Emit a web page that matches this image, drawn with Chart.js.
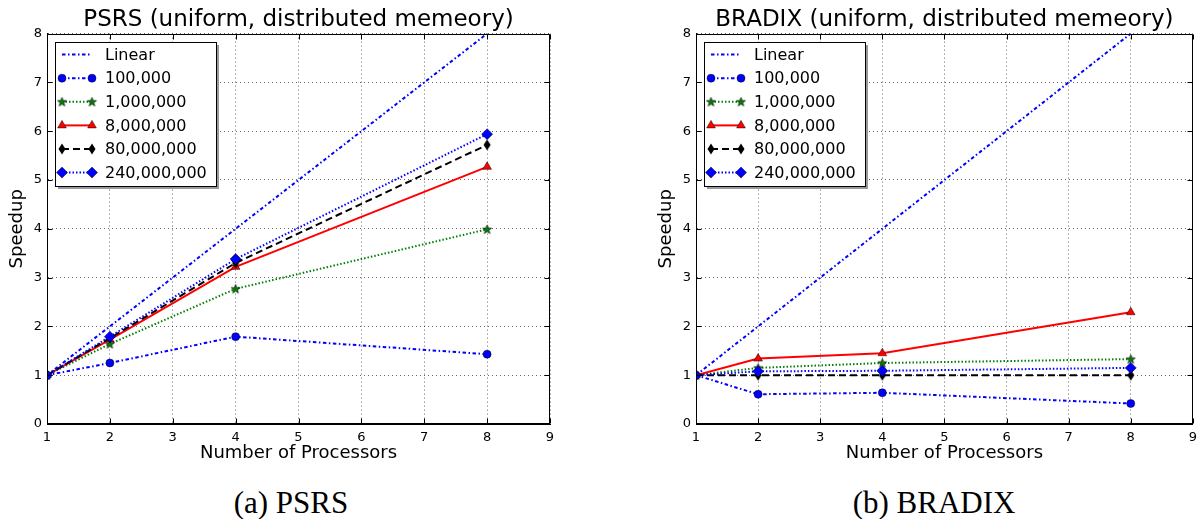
<!DOCTYPE html>
<html>
<head>
<meta charset="utf-8">
<script src="https://cdn.jsdelivr.net/npm/chart.js@4/dist/chart.umd.min.js"></script>
<style>
  html, body { margin: 0; padding: 0; background: #fff; overflow: hidden; }
  #wrap { position: relative; width: 1203px; height: 519px; }
  .box { position: absolute; top: 0; height: 470px; }
  .cap { position: absolute; top: 485px; line-height: 36px; font-family: "Liberation Serif", serif; font-size: 31px; transform: translateX(-50%); white-space: nowrap; color: #000; }
</style>
</head>
<body>
<div id="wrap">
  <div class="box" style="left:0; width:581px"><canvas id="psrs"></canvas></div>
  <div class="box" style="left:649px; width:554px"><canvas id="bradix"></canvas></div>
  <div class="cap" style="left:291px">(a) PSRS</div>
  <div class="cap" style="left:934px">(b) BRADIX</div>
</div>
<script>
// data
const processors = [1, 2, 4, 8];
const seriesLabels = ['Linear', '100,000', '1,000,000', '8,000,000', '80,000,000', '240,000,000'];
const linearSpeedup = [1, 2, 4, 8];

const psrs100k = [1, 1.25, 1.79, 1.43];
const psrs1m = [1, 1.64, 2.77, 3.99];
const psrs8m = [1, 1.73, 3.22, 5.27];
const psrs80m = [1, 1.76, 3.30, 5.72];
const psrs240m = [1, 1.79, 3.38, 5.94];

const bradix100k = [1, 0.61, 0.64, 0.42];
const bradix1m = [1, 1.15, 1.25, 1.33];
const bradix8m = [1, 1.34, 1.45, 2.29];
const bradix80m = [1, 1.0, 1.0, 1.0];
const bradix240m = [1, 1.08, 1.09, 1.15];

const xTicks = [1, 2, 3, 4, 5, 6, 7, 8, 9];
const yTicks = [0, 1, 2, 3, 4, 5, 6, 7, 8];

Chart.defaults.font.family = '"DejaVu Sans", sans-serif';
Chart.defaults.color = '#000';

function makeMarker(w, h, draw) {
    const c = document.createElement('canvas');
    c.width = w;
    c.height = h;
    draw(c.getContext('2d'));
    return c;
}

const starMarker = makeMarker(11, 11, g => {
    g.beginPath();
    for (let k = 0; k < 10; k++) {
        const r = k % 2 ? 2 : 4.8;
        const a = -Math.PI / 2 + k * Math.PI / 5;
        g.lineTo(5.5 + r * Math.cos(a), 5.8 + r * Math.sin(a));
    }
    g.closePath();
    g.fillStyle = '#008000';
    g.fill();
    g.strokeStyle = '#000';
    g.lineWidth = 0.6;
    g.stroke();
});

const thinDiamond = makeMarker(10, 12, g => {
    g.beginPath();
    g.moveTo(5, 0.5);
    g.lineTo(8.5, 6);
    g.lineTo(5, 11.5);
    g.lineTo(1.5, 6);
    g.closePath();
    g.fillStyle = '#000';
    g.fill();
});

const dashDot = [3.5, 2.5, 1.5, 2.5];
const dotted = [1.5, 2];

const styles = [
    { borderColor: '#0000ff', borderDash: dashDot, pointRadius: 0 },
    { borderColor: '#0000ff', borderDash: dashDot, pointStyle: 'circle', pointRadius: 4, pointBackgroundColor: '#0000ff' },
    { borderColor: '#008000', borderDash: dotted, pointStyle: starMarker, pointRadius: 5, pointBackgroundColor: '#008000' },
    { borderColor: '#ff0000', borderDash: [], pointStyle: 'triangle', pointRadius: 5, pointBackgroundColor: '#ff0000' },
    { borderColor: '#000000', borderDash: [7, 4], pointStyle: thinDiamond, pointRadius: 5, pointBackgroundColor: '#000' },
    { borderColor: '#0000ff', borderDash: dotted, pointStyle: 'rectRot', pointRadius: 5.5, pointBackgroundColor: '#0000ff' }
];

function buildDatasets(seriesValues) {
    return seriesValues.map((values, i) => Object.assign({
        label: seriesLabels[i],
        data: processors.map((p, j) => ({ x: p, y: values[j] })),
        fill: false,
        tension: 0,
        borderWidth: 2,
        pointBorderColor: '#000',
        pointBorderWidth: 0.5,
        order: seriesValues.length - i
    }, styles[i]));
}

// matplotlib style legend box with shadow, inside the upper left corner
const legendBox = {
    id: 'legendBox',
    afterDraw(chart) {
        const ctx = chart.ctx;
        const area = chart.chartArea;
        const sets = chart.data.datasets;
        ctx.save();
        ctx.font = '16px "DejaVu Sans"';
        const textW = Math.max(...sets.map(d => ctx.measureText(d.label).width));
        const x0 = Math.round(area.left + 8);
        const y0 = Math.round(area.top + 8);
        const w = Math.round(50 + textW + 9);
        const h = Math.round(12.6 + (sets.length - 1) * 23.6 + 13.4);
        ctx.fillStyle = '#999';
        ctx.fillRect(x0 + 3, y0 + 3, w, h);
        ctx.fillStyle = '#fff';
        ctx.fillRect(x0, y0, w, h);
        ctx.strokeStyle = '#000';
        ctx.lineWidth = 1;
        ctx.strokeRect(x0 + 0.5, y0 + 0.5, w, h);

        sets.forEach((d, i) => {
            const y = y0 + 12.6 + i * 23.6;
            ctx.strokeStyle = d.borderColor;
            ctx.lineWidth = d.borderWidth;
            ctx.setLineDash(d.borderDash || []);
            ctx.beginPath();
            ctx.moveTo(x0 + 7, y);
            ctx.lineTo(x0 + 37, y);
            ctx.stroke();
            ctx.setLineDash([]);
            if (d.pointRadius > 0) {
                [x0 + 7, x0 + 37].forEach(px => {
                    ctx.fillStyle = d.pointBackgroundColor;
                    ctx.strokeStyle = d.pointBorderColor;
                    ctx.lineWidth = d.pointBorderWidth;
                    Chart.helpers.drawPoint(ctx, {
                        pointStyle: d.pointStyle,
                        radius: d.pointRadius,
                        rotation: 0,
                        borderWidth: d.pointBorderWidth
                    }, px, y);
                });
            }
            ctx.fillStyle = '#000';
            ctx.textBaseline = 'middle';
            ctx.textAlign = 'left';
            ctx.fillText(d.label, x0 + 50, y + 1);
        });
        ctx.restore();
    }
};

// full box around the axes plus inward tick marks
const frame = {
    id: 'frame',
    afterDatasetsDraw(chart) {
        const { ctx, chartArea: a, scales } = chart;
        const l = Math.round(a.left) + 0.5, r = Math.round(a.right) - 0.5;
        const t = Math.round(a.top) + 0.5, b = Math.round(a.bottom) - 0.5;
        ctx.save();
        ctx.strokeStyle = '#000';
        ctx.lineWidth = 1;
        ctx.setLineDash([]);
        ctx.strokeRect(l, t, r - l, b - t);
        ctx.beginPath();
        xTicks.forEach(v => {
            const px = Math.round(scales.x.getPixelForValue(v)) + 0.5;
            ctx.moveTo(px, b); ctx.lineTo(px, b - 5);
            ctx.moveTo(px, t); ctx.lineTo(px, t + 5);
        });
        yTicks.forEach(v => {
            const py = Math.round(scales.y.getPixelForValue(v)) + 0.5;
            ctx.moveTo(l, py); ctx.lineTo(l + 5, py);
            ctx.moveTo(r, py); ctx.lineTo(r - 5, py);
        });
        ctx.stroke();
        ctx.restore();
    }
};

function makeChart(id, title, seriesValues, rightPad) {
    return new Chart(document.getElementById(id), {
        type: 'line',
        data: { datasets: buildDatasets(seriesValues) },
        options: {
            responsive: true,
            maintainAspectRatio: false,
            animation: false,
            events: [],
            layout: { padding: { left: 0, right: rightPad, top: 0, bottom: 0 } },
            plugins: {
                legend: { display: false },
                tooltip: { enabled: false },
                title: {
                    display: true,
                    text: title,
                    fullSize: false,
                    font: { size: 23, weight: 'normal' },
                    padding: { top: 6, bottom: 0 }
                }
            },
            scales: {
                x: {
                    type: 'linear',
                    min: 1,
                    max: 9,
                    afterFit: s => { s.height = 46; },
                    ticks: { stepSize: 1, font: { size: 13 }, padding: 6 },
                    grid: { color: 'rgba(0,0,0,0.6)', lineWidth: 1, drawTicks: false },
                    border: { display: true, color: '#000', dash: [1, 3] },
                    title: { display: true, text: 'Number of Processors', font: { size: 18 }, padding: { top: 0, bottom: 6 } }
                },
                y: {
                    min: 0,
                    max: 8,
                    afterFit: s => { s.width = 47; },
                    ticks: { stepSize: 1, font: { size: 13 }, padding: 5 },
                    grid: { color: 'rgba(0,0,0,0.6)', lineWidth: 1, drawTicks: false },
                    border: { display: true, color: '#000', dash: [1, 3] },
                    title: { display: true, text: 'Speedup', font: { size: 18 }, padding: { top: 7, bottom: 0 } }
                }
            }
        },
        plugins: [frame, legendBox]
    });
}

makeChart('psrs', 'PSRS (uniform, distributed memeory)',
    [linearSpeedup, psrs100k, psrs1m, psrs8m, psrs80m, psrs240m], 31);
makeChart('bradix', 'BRADIX (uniform, distributed memeory)',
    [linearSpeedup, bradix100k, bradix1m, bradix8m, bradix80m, bradix240m], 4);
</script>
</body>
</html>
